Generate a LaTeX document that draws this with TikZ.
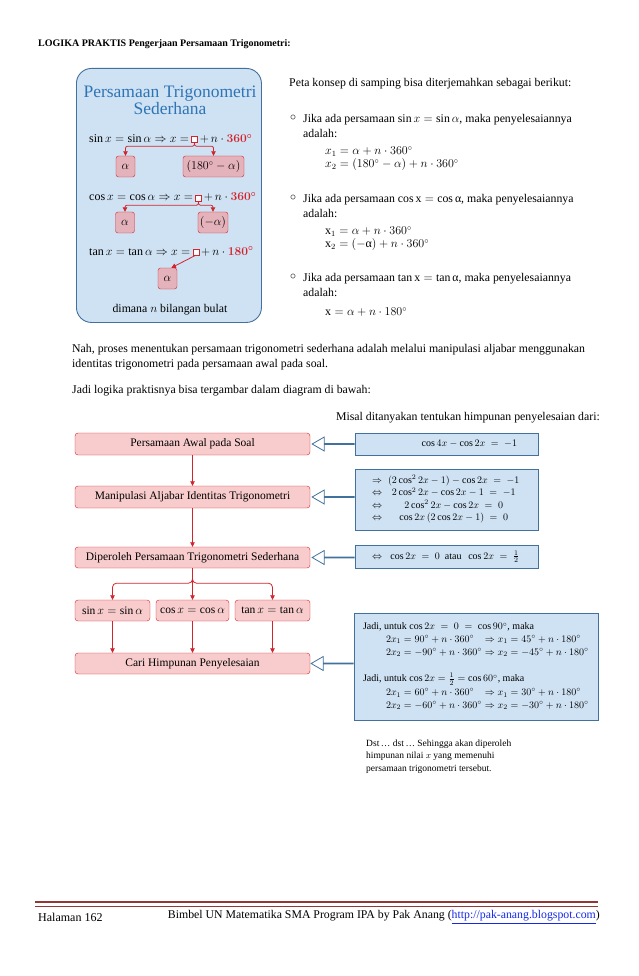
\documentclass[tikz,border=0pt]{standalone}
\usepackage{amsmath, amssymb}
\usepackage{fontspec}
\setmainfont{Liberation Serif}
\usepackage{tikz}
\usetikzlibrary{arrows.meta, positioning, shapes.arrows, calc}

\definecolor{boxblue}{RGB}{207,226,243}
\definecolor{lineblue}{RGB}{65,113,156}
\definecolor{titleblue}{RGB}{46,116,181}
\definecolor{flowred}{RGB}{210,36,44}
\definecolor{flowpink}{RGB}{248,204,204}
\definecolor{conceptpink}{RGB}{228,178,186}
\definecolor{footred}{RGB}{148,54,52}
\definecolor{linkblue}{RGB}{20,40,230}

\tikzset{
    txt/.style={anchor=west, inner sep=0pt},
    redbox/.style={draw=flowred, fill=flowpink, rounded corners=3pt, minimum height=22pt, inner sep=2pt, font=\fontsize{11.5}{13}\selectfont},
    alphabox/.style={draw=flowred, fill=conceptpink, rounded corners=2.5pt, minimum height=21pt, inner xsep=2pt},
    bluebox/.style={draw=lineblue, fill=boxblue, line width=0.9pt, inner xsep=0pt},
    holebox/.style={draw=flowred, fill=white, minimum size=6pt, inner sep=0pt},
    redarrow/.style={draw=flowred, line width=0.8pt, -{Triangle[length=4.5pt,width=4.5pt]}},
    fatarrow/.style={single arrow, draw=lineblue, line width=0.8pt, fill=white, shape border rotate=180,
        minimum height=42pt, minimum width=14pt, single arrow head extend=5pt,
        single arrow tip angle=60, inner sep=0pt, anchor=tail},
}

\begin{document}
\begin{tikzpicture}[x=1pt, y=-1pt, font=\fontsize{11.8}{15}\selectfont]
        \useasboundingbox (0, 0) rectangle (638, 976);

        \node[txt, font=\fontsize{10}{12}\selectfont\bfseries] at (38, 44) (head) {LOGIKA PRAKTIS Pengerjaan Persamaan Trigonometri:};

        \node[bluebox, rounded corners=15pt, minimum width=185pt, minimum height=254pt, anchor=north west] at (76, 68) (concept) {};
        \node[text=titleblue, align=center, font=\fontsize{17.5}{15.5}\selectfont] at (170, 100) (ctitle) {Persamaan Trigonometri\\Sederhana};

        \node[txt, font=\fontsize{12}{14}\selectfont] at (89, 139) (eqsin) {$\sin x = \sin\alpha \Rightarrow x =$};
        \node[holebox, right=2pt of eqsin] (hsin) {};
        \node[anchor=base west, inner sep=0pt, font=\fontsize{12}{14}\selectfont] at ($(hsin.east |- eqsin.base)+(2, 0)$) (psin) {$+\,n\cdot\textcolor{flowred}{\boldsymbol{360^\circ}}$};
        \node[alphabox, minimum width=19pt] at (125.5, 166.5) (asin1) {$\alpha$};
        \node[alphabox, minimum width=61pt] at (213.5, 166.5) (asin2) {$(180^\circ-\alpha)$};
        \draw[redarrow, rounded corners=2pt] (hsin.south) -- ++(0, 4) -| (asin1.north);
        \draw[redarrow, rounded corners=2pt] (hsin.south) -- ++(0, 4) -| (asin2.north);

        \node[txt, font=\fontsize{12}{14}\selectfont] at (89, 198) (eqcos) {$\cos x = \cos\alpha \Rightarrow x =$};
        \node[holebox, right=2pt of eqcos] (hcos) {};
        \node[anchor=base west, inner sep=0pt, font=\fontsize{12}{14}\selectfont] at ($(hcos.east |- eqcos.base)+(2, 0)$) (pcos) {$+\,n\cdot\textcolor{flowred}{\boldsymbol{360^\circ}}$};
        \node[alphabox, minimum width=19pt] at (125, 222.5) (acos1) {$\alpha$};
        \node[alphabox, minimum width=30pt] at (213, 222.5) (acos2) {$(-\alpha)$};
        \draw[redarrow, rounded corners=2pt] (hcos.south) -- ++(0, 4) -| (acos1.north);
        \draw[redarrow, rounded corners=2pt] (hcos.south) -- ++(0, 4) -| (acos2.north);

        \node[txt, font=\fontsize{12}{14}\selectfont] at (89, 252) (eqtan) {$\tan x = \tan\alpha \Rightarrow x =$};
        \node[holebox, right=2pt of eqtan] (htan) {};
        \node[anchor=base west, inner sep=0pt, font=\fontsize{12}{14}\selectfont] at ($(htan.east |- eqtan.base)+(2, 0)$) (ptan) {$+\,n\cdot\textcolor{flowred}{\boldsymbol{180^\circ}}$};
        \node[alphabox, minimum width=19pt] at (167.5, 278.5) (atan) {$\alpha$};
        \draw[redarrow] (htan.south) -- (atan.70);

        \node at (170, 310) (bulat) {dimana $n$ bilangan bulat};

        \node[txt] at (289, 84) (peta) {Peta konsep di samping bisa diterjemahkan sebagai berikut:};
        \node[txt] at (290, 118) (bsin) {$\circ$};
        \node[txt, align=left] at (303, 125.5) (jsin) {Jika ada persamaan $\sin x = \sin\alpha$, maka penyelesaiannya\\adalah:};
        \node[txt, align=left, font=\fontsize{12}{13}\selectfont] at (325, 158.5) (xsin) {$x_1 = \alpha + n\cdot 360^\circ$\\$x_2 = (180^\circ-\alpha) + n\cdot 360^\circ$};
        \node[txt] at (290, 198) (bcos) {$\circ$};
        \node[txt, align=left] at (303, 205.5) (jcos) {Jika ada persamaan $\cos\mathrm{x} = \cos\text{α}$, maka penyelesaiannya\\adalah:};
        \node[txt, align=left, font=\fontsize{12}{13}\selectfont] at (325, 238.5) (xcos) {$\mathrm{x}_1 = \alpha + n\cdot 360^\circ$\\$\mathrm{x}_2 = (-\text{α}) + n\cdot 360^\circ$};
        \node[txt] at (290, 277) (btan) {$\circ$};
        \node[txt, align=left] at (303, 284.5) (jtan) {Jika ada persamaan $\tan\mathrm{x} = \tan\text{α}$, maka penyelesaiannya\\adalah:};
        \node[txt, font=\fontsize{12}{13}\selectfont] at (325, 312) (xtan) {$\mathrm{x} = \alpha + n\cdot 180^\circ$};

        \node[txt, align=left] at (72, 357.5) (nah) {Nah, proses menentukan persamaan trigonometri sederhana adalah melalui manipulasi aljabar menggunakan\\identitas trigonometri pada persamaan awal pada soal.};
        \node[txt] at (72, 391) (jadi) {Jadi logika praktisnya bisa tergambar dalam diagram di bawah:};
        \node[anchor=east, inner sep=0pt] at (600, 418) (misal) {Misal ditanyakan tentukan himpunan penyelesaian dari:};

        \node[redbox, minimum width=235pt] at (192.5, 444) (awal) {Persamaan Awal pada Soal};
        \node[redbox, minimum width=235pt] at (192.5, 497) (manip) {Manipulasi Aljabar Identitas Trigonometri};
        \node[redbox, minimum width=235pt, minimum height=21pt] at (192.5, 557.5) (sederhana) {Diperoleh Persamaan Trigonometri Sederhana};
        \node[redbox, minimum width=75pt, minimum height=21pt] at (112.5, 610.5) (fsin) {$\sin x = \sin\alpha$};
        \node[redbox, minimum width=73pt, minimum height=21pt] at (192.5, 610.5) (fcos) {$\cos x = \cos\alpha$};
        \node[redbox, minimum width=75pt, minimum height=21pt] at (272.5, 610.5) (ftan) {$\tan x = \tan\alpha$};
        \node[redbox, minimum width=235pt, minimum height=21pt] at (192.5, 663.5) (cari) {Cari Himpunan Penyelesaian};

        \draw[redarrow] (awal) -- (manip);
        \draw[redarrow] (manip) -- (sederhana);
        \draw[redarrow] (sederhana) -- (fcos);
        \draw[redarrow, rounded corners=4pt] (sederhana.south) -- ++(0, 15) -| (fsin.north);
        \draw[redarrow, rounded corners=4pt] (sederhana.south) -- ++(0, 15) -| (ftan.north);
        \draw[redarrow] (fsin.south) -- (fsin.south |- cari.north);
        \draw[redarrow] (fcos) -- (cari);
        \draw[redarrow] (ftan.south) -- (ftan.south |- cari.north);

        \node[bluebox, minimum width=183pt, minimum height=22pt, font=\fontsize{10}{12}\selectfont] at (446.5, 444) (soal) {\makebox[181pt][r]{$\cos 4x - \cos 2x \;=\; -1$\hspace{20pt}}};
        \node[bluebox, minimum width=183pt, minimum height=61pt, font=\fontsize{10}{12.3}\selectfont] at (446.5, 499.5) (langkah) {%
            \makebox[181pt][l]{\hspace{16pt}\begin{tabular}{@{}c@{\hspace{6pt}}c@{}}
            $\Rightarrow$ & $(2\cos^2 2x - 1) - \cos 2x \;=\; -1$\\
            $\Leftrightarrow$ & $2\cos^2 2x - \cos 2x - 1 \;=\; -1$\\
            $\Leftrightarrow$ & $2\cos^2 2x - \cos 2x \;=\; 0$\\
            $\Leftrightarrow$ & $\cos 2x\,(2\cos 2x - 1) \;=\; 0$
            \end{tabular}}};
        \node[bluebox, minimum width=183pt, minimum height=23pt, font=\fontsize{10}{12}\selectfont] at (446.5, 556.5) (hasil) {\makebox[181pt][l]{\hspace{16pt}$\Leftrightarrow\;\; \cos 2x \;=\; 0\ \text{ atau }\ \cos 2x \;=\; \tfrac{1}{2}$}};
        \node[bluebox, minimum width=244pt, minimum height=107pt, font=\fontsize{10}{12.7}\selectfont] at (476, 666.5) (jawab) {%
            \makebox[242pt][l]{\hspace{8pt}\begin{tabular}{@{\hspace{23pt}}l@{\hspace{3pt}}l@{}}
            \multicolumn{2}{@{}l}{Jadi, untuk $\cos 2x \;=\; 0 \;=\; \cos 90^\circ$, maka}\\
            $2x_1 = 90^\circ + n\cdot 360^\circ$ & $\Rightarrow x_1 = 45^\circ + n\cdot 180^\circ$\\
            $2x_2 = -90^\circ + n\cdot 360^\circ$ & $\Rightarrow x_2 = -45^\circ + n\cdot 180^\circ$\\[14pt]
            \multicolumn{2}{@{}l}{Jadi, untuk $\cos 2x = \tfrac{1}{2} = \cos 60^\circ$, maka}\\[1pt]
            $2x_1 = 60^\circ + n\cdot 360^\circ$ & $\Rightarrow x_1 = 30^\circ + n\cdot 180^\circ$\\
            $2x_2 = -60^\circ + n\cdot 360^\circ$ & $\Rightarrow x_2 = -30^\circ + n\cdot 180^\circ$
            \end{tabular}}};

        \node[fatarrow] at (soal.west |- awal.east) (fa1) {};
        \node[fatarrow] at (langkah.west |- manip.east) (fa2) {};
        \node[fatarrow] at (hasil.west |- sederhana.east) (fa3) {};
        \node[fatarrow] at (jawab.west |- cari.east) (fa4) {};

        \node[txt, align=left, font=\fontsize{9.5}{12.7}\selectfont] at (366, 756.5) (dst) {Dst\,\ldots\ dst\,\ldots\ Sehingga akan diperoleh\\himpunan nilai $x$ yang memenuhi\\persamaan trigonometri tersebut.};

        \draw[footred, line width=2.5pt] (35, 902) -- (598, 902);
        \draw[footred, line width=0.6pt] (35, 906.5) -- (598, 906.5);
        \node[txt, font=\fontsize{12}{14}\selectfont] at (38, 917) (hal) {Halaman 162};
        \node[anchor=east, inner sep=0pt, font=\fontsize{11.8}{14}\selectfont] at (600, 917) (bimbel) {Bimbel UN Matematika SMA Program IPA by Pak Anang (\textcolor{linkblue}{\underline{http://pak-anang.blogspot.com}})};
    \end{tikzpicture}
\end{document}
